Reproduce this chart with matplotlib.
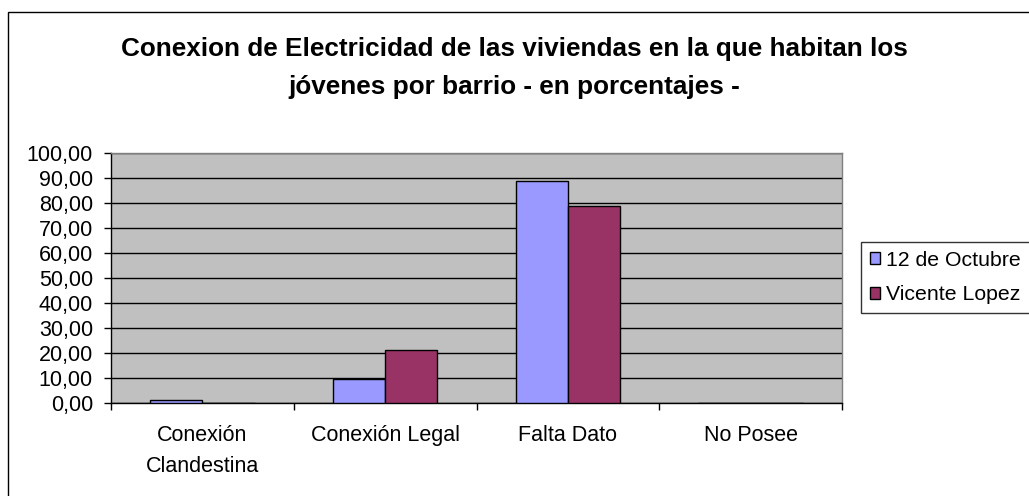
import matplotlib
matplotlib.use("Agg")
import matplotlib.pyplot as plt
from matplotlib.patches import Patch, Rectangle
from matplotlib.ticker import FuncFormatter, FixedLocator
import numpy as np

plt.rcParams['font.family'] = ['Liberation Sans', 'DejaVu Sans']

categories = ["Conexión\nClandestina", "Conexión Legal", "Falta Dato", "No Posee"]
series_names = ["12 de Octubre", "Vicente Lopez"]
octubre = [1.4, 9.6, 89.0, 0.0]
vicente = [0.0, 21.1, 78.9, 0.0]
colors = ["#9999FF", "#993366"]
title = "Conexion de Electricidad de las viviendas en la que habitan los\njóvenes por barrio - en porcentajes -"

fig = plt.figure(figsize=(10.29, 4.96), dpi=100)
fig.patch.set_facecolor("white")

# outer chart frame (clipped at right and bottom like the reference)
frame = Rectangle((8/1029, -0.05), 1.1, (496-12)/496 + 0.05, transform=fig.transFigure,
                  fill=False, edgecolor="black", linewidth=1.0)
fig.patches.append(frame)

ax = fig.add_axes([111/1029, (496-403)/496, (842-111)/1029, 250/496])
ax.set_facecolor("#C0C0C0")

x = np.arange(len(categories))
w = 1/3.5
ax.bar(x - w/2, octubre, width=w, color=colors[0], edgecolor="black", linewidth=1.0, zorder=3)
ax.bar(x + w/2, vicente, width=w, color=colors[1], edgecolor="black", linewidth=1.0, zorder=3)

ax.set_xlim(-0.5, len(categories) - 0.5)
ax.set_ylim(0, 100)
ax.set_yticks(np.arange(0, 101, 10))
ax.yaxis.set_major_formatter(FuncFormatter(lambda v, p: f"{v:.2f}".replace(".", ",")))
ax.grid(axis="y", color="black", linewidth=1.0, zorder=1)
ax.set_axisbelow(True)

ax.set_xticks(x)
ax.set_xticklabels(categories, fontsize=15.5, linespacing=1.62)
ax.xaxis.set_minor_locator(FixedLocator(np.arange(-0.5, len(categories), 1.0)))
ax.tick_params(axis="x", which="major", length=0, pad=16)
ax.tick_params(axis="x", which="minor", length=5, width=1, direction="out")
ax.tick_params(axis="y", length=5, width=1, direction="out", labelsize=15.5, pad=8)

for s in ["top", "right"]:
    ax.spines[s].set_color("#808080")
    ax.spines[s].set_linewidth(1.0)
for s in ["left", "bottom"]:
    ax.spines[s].set_color("black")
    ax.spines[s].set_linewidth(1.0)

fig.text(514/1029, 1 - 68/496, title, ha="center", va="center", fontsize=18.8,
         fontweight="bold", linespacing=1.75)

handles = [Patch(facecolor=c, edgecolor="black", linewidth=1.0) for c in colors]
leg = fig.legend(handles, series_names, loc="upper left",
                 bbox_to_anchor=(861/1029, 1 - 242/496), fontsize=15.3,
                 frameon=True, fancybox=False, shadow=False, borderaxespad=0,
                 handlelength=0.5, handleheight=0.5, handletextpad=0.3,
                 labelspacing=0.75, borderpad=0.4)
leg.get_frame().set_edgecolor("black")
leg.get_frame().set_linewidth(1.0)

fig.savefig("out.png", dpi=100, facecolor="white")
